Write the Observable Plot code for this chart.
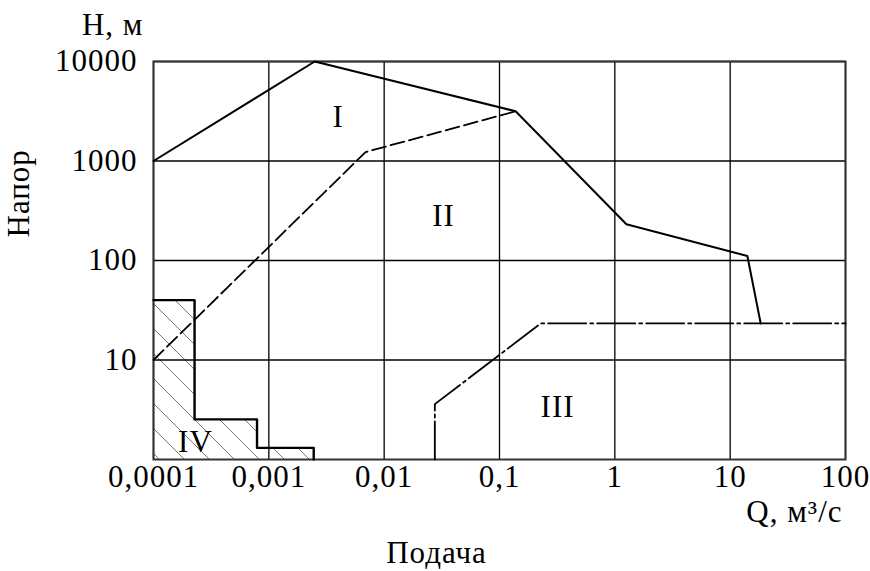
<!DOCTYPE html>
<html>
<head>
<meta charset="utf-8">
<script src="https://cdn.jsdelivr.net/npm/d3@7"></script>
<script src="https://cdn.jsdelivr.net/npm/@observablehq/plot@0.6"></script>
<style>
  html, body { margin: 0; padding: 0; background: #fff; }
  #chart svg { display: block; }
  #chart svg text { letter-spacing: 1px; }
</style>
</head>
<body>
<div id="chart"></div>
<script>
// Axis ticks and labels
const xTicks = [0.0001, 0.001, 0.01, 0.1, 1, 10, 100];
const xTickLabels = ["0,0001", "0,001", "0,01", "0,1", "1", "10", "100"];
const yTicks = [10, 100, 1000, 10000];
const yTickLabels = ["10", "100", "1000", "10000"];

// Zone I boundary (solid)
const zoneIQ = [0.0001, 0.0025, 0.138, 1.26, 14.1, 18.4];
const zoneIH = [1000, 10000, 3160, 231, 111, 23.3];

// Zone II boundary (dashed)
const zoneIIQ = [0.0001, 0.0069, 0.138];
const zoneIIH = [10, 1230, 3160];

// Zone III boundary (dash-dot)
const zoneIIIQ = [0.0275, 0.0275, 0.228, 100];
const zoneIIIH = [1, 3.6, 23.3, 23.3];

// Zone IV (hatched step region)
const zoneIVQ = [0.0001, 0.000227, 0.00079, 0.00245, 0.00245];
const zoneIVH = [40, 2.53, 1.31, 1.31, 1];

// Zone labels
const zoneNames = ["I", "II", "III", "IV"];
const zoneNameQ = [0.0040, 0.0327, 0.319, 0.000231];
const zoneNameH = [2740, 278, 3.36, 1.50];

const toRows = (qs, hs) => qs.map((q, i) => ({q, h: hs[i]}));
const lineI = toRows(zoneIQ, zoneIH);
const lineII = toRows(zoneIIQ, zoneIIH);
const lineIII = toRows(zoneIIIQ, zoneIIIH);
const areaIV = toRows(zoneIVQ, zoneIVH);
const labels = zoneNames.map((t, i) => ({t, q: zoneNameQ[i], h: zoneNameH[i]}));

const xFmt = d => { const i = xTicks.findIndex(t => Math.abs(Math.log10(t) - Math.log10(d)) < 1e-6); return i < 0 ? "" : xTickLabels[i]; };
const yFmt = d => { const i = yTicks.findIndex(t => Math.abs(Math.log10(t) - Math.log10(d)) < 1e-6); return i < 0 ? "" : yTickLabels[i]; };

const font = "'Liberation Serif', 'Times New Roman', serif";
const fs = 31;

const chart = Plot.plot({
  width: 870,
  height: 571,
  marginLeft: 153,
  marginRight: 25,
  marginTop: 61,
  marginBottom: 112,
  style: {fontFamily: font, fontSize: fs + "px", color: "#000", background: "#fff"},
  x: {type: "log", domain: [0.0001, 100], ticks: xTicks, tickFormat: xFmt},
  y: {type: "log", domain: [1, 10000], ticks: yTicks, tickFormat: yFmt},
  marks: [
    Plot.areaY(areaIV, {x: "q", y1: 1, y2: "h", curve: "step-after", fill: "url(#hatch)"}),
    Plot.gridX(xTicks, {stroke: "#000", strokeOpacity: 1, strokeWidth: 1.3}),
    Plot.gridY(yTicks, {stroke: "#000", strokeOpacity: 1, strokeWidth: 1.3}),
    Plot.frame({stroke: "#333", strokeWidth: 2}),
    Plot.line(areaIV, {x: "q", y: "h", curve: "step-after", stroke: "#000", strokeWidth: 2.4}),
    Plot.line(lineI, {x: "q", y: "h", stroke: "#000", strokeWidth: 2}),
    Plot.line(lineII, {x: "q", y: "h", stroke: "#000", strokeWidth: 1.8, strokeDasharray: "14,5"}),
    Plot.line(lineIII, {x: "q", y: "h", stroke: "#000", strokeWidth: 1.8, strokeDasharray: "38,4,3,4"}),
    Plot.axisX({ticks: xTicks, tickFormat: xFmt, tickSize: 0, tickPadding: 5, fontSize: fs, label: null}),
    Plot.axisY({ticks: yTicks, tickFormat: yFmt, tickSize: 0, tickPadding: 16, fontSize: fs, label: null}),
    Plot.text(labels, {x: "q", y: "h", text: "t", fontSize: fs, fill: "#000"}),
    Plot.text(["H, м"], {frameAnchor: "top-left", dx: -10, dy: -49, textAnchor: "end", fontSize: fs}),
    Plot.text(["Q, м³/с"], {frameAnchor: "bottom-right", dx: -3, dy: 62, textAnchor: "end", fontSize: fs}),
    Plot.text(["Напор"], {frameAnchor: "left", dx: -134, dy: -23, rotate: -90, fontSize: fs}),
    Plot.text(["Подача"], {frameAnchor: "bottom", dx: -63, dy: 103, fontSize: fs})
  ]
});

// hatch pattern definition
const svg = d3.select(chart);
const defs = svg.insert("defs", ":first-child");
const pat = defs.append("pattern")
  .attr("id", "hatch")
  .attr("patternUnits", "userSpaceOnUse")
  .attr("width", 25)
  .attr("height", 25);
pat.append("path")
  .attr("d", "M-5,-5 L30,30 M-5,20 L5,30 M20,-5 L30,5")
  .attr("stroke", "#777")
  .attr("stroke-width", 1)
  .attr("fill", "none");

document.getElementById("chart").appendChild(chart);
</script>
</body>
</html>
